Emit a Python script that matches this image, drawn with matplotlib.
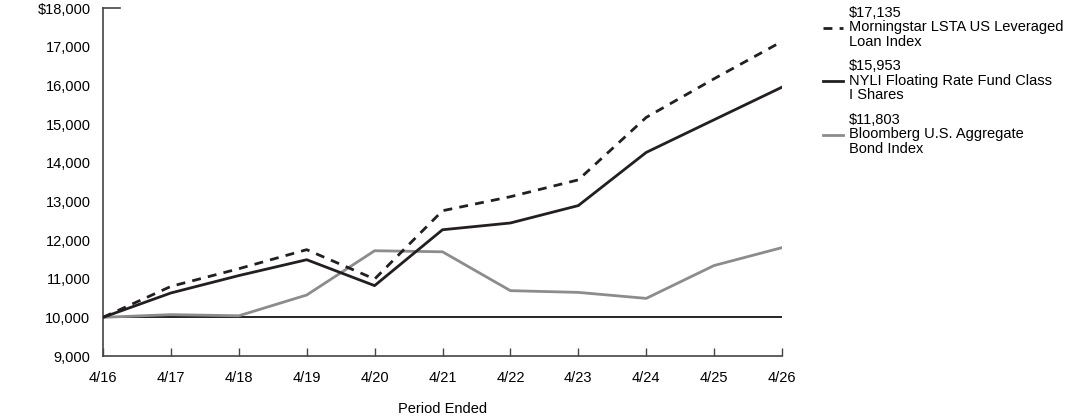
import matplotlib
matplotlib.use("Agg")
import matplotlib.pyplot as plt
from matplotlib.lines import Line2D

plt.rcParams['font.family'] = ['Liberation Sans', 'DejaVu Sans']

periods = ["4/16", "4/17", "4/18", "4/19", "4/20", "4/21", "4/22", "4/23", "4/24", "4/25", "4/26"]
morningstar = [10000, 10800, 11257, 11750, 10990, 12757, 13120, 13555, 15170, 16170, 17135]
nyli = [10000, 10630, 11080, 11490, 10820, 12265, 12440, 12890, 14265, 15110, 15953]
bloomberg = [10000, 10070, 10040, 10577, 11722, 11695, 10690, 10645, 10490, 11340, 11803]

labels = [
    "\\$17,135\nMorningstar LSTA US Leveraged\nLoan Index",
    "\\$15,953\nNYLI Floating Rate Fund Class\nI Shares",
    "\\$11,803\nBloomberg U.S. Aggregate\nBond Index",
]
yticks = [9000, 10000, 11000, 12000, 13000, 14000, 15000, 16000, 17000, 18000]
ytick_labels = ["9,000", "10,000", "11,000", "12,000", "13,000", "14,000", "15,000", "16,000", "17,000", "$18,000"]

c_dark = "#231f20"
c_gray = "#8c8c8c"
fs = 10.5

fig = plt.figure(figsize=(10.92, 4.17), dpi=100)
ax = fig.add_axes([103/1092, 1 - 356/417, (782-103)/1092, (356-8)/417])

x = list(range(len(periods)))
ax.axhline(10000, color="black", lw=1.2, zorder=1)
ax.plot(x, bloomberg, color=c_gray, lw=2, zorder=2)
ax.plot(x, nyli, color=c_dark, lw=2, zorder=3)
ax.plot(x, morningstar, color=c_dark, lw=2, ls=(0, (3.2, 2.6)), zorder=4)

ax.set_xlim(0, len(periods) - 1)
ax.set_ylim(9000, 18000)
ax.set_xticks(x)
ax.set_xticklabels(periods, fontsize=fs)
ax.set_yticks(yticks)
ax.set_yticklabels(ytick_labels, fontsize=fs)
ax.tick_params(axis='x', direction='in', length=6, width=1, color="#444444", pad=11)
ax.tick_params(axis='y', length=0, pad=9)
for s in ["top", "right"]:
    ax.spines[s].set_visible(False)
for s in ["left", "bottom"]:
    ax.spines[s].set_color("#444444")
    ax.spines[s].set_linewidth(1.2)
# top tick at 18000
ax.plot([0, 0.25], [18000, 18000], color="#444444", lw=1.2, clip_on=False, zorder=5)

ax.set_xlabel("Period Ended", fontsize=fs, labelpad=12)

handles = [
    Line2D([], [], color=c_dark, lw=2, ls=(0, (3.2, 2.6))),
    Line2D([], [], color=c_dark, lw=2),
    Line2D([], [], color=c_gray, lw=2),
]
leg = fig.legend(handles, labels, loc="upper left", bbox_to_anchor=(823/1092, 1 - 6/417),
                 frameon=False, fontsize=fs, handlelength=1.4, handletextpad=0.4,
                 labelspacing=0.72, borderaxespad=0, borderpad=0)
for t in leg.get_texts():
    t.set_linespacing(1.04)

fig.savefig("out.png", dpi=100)
